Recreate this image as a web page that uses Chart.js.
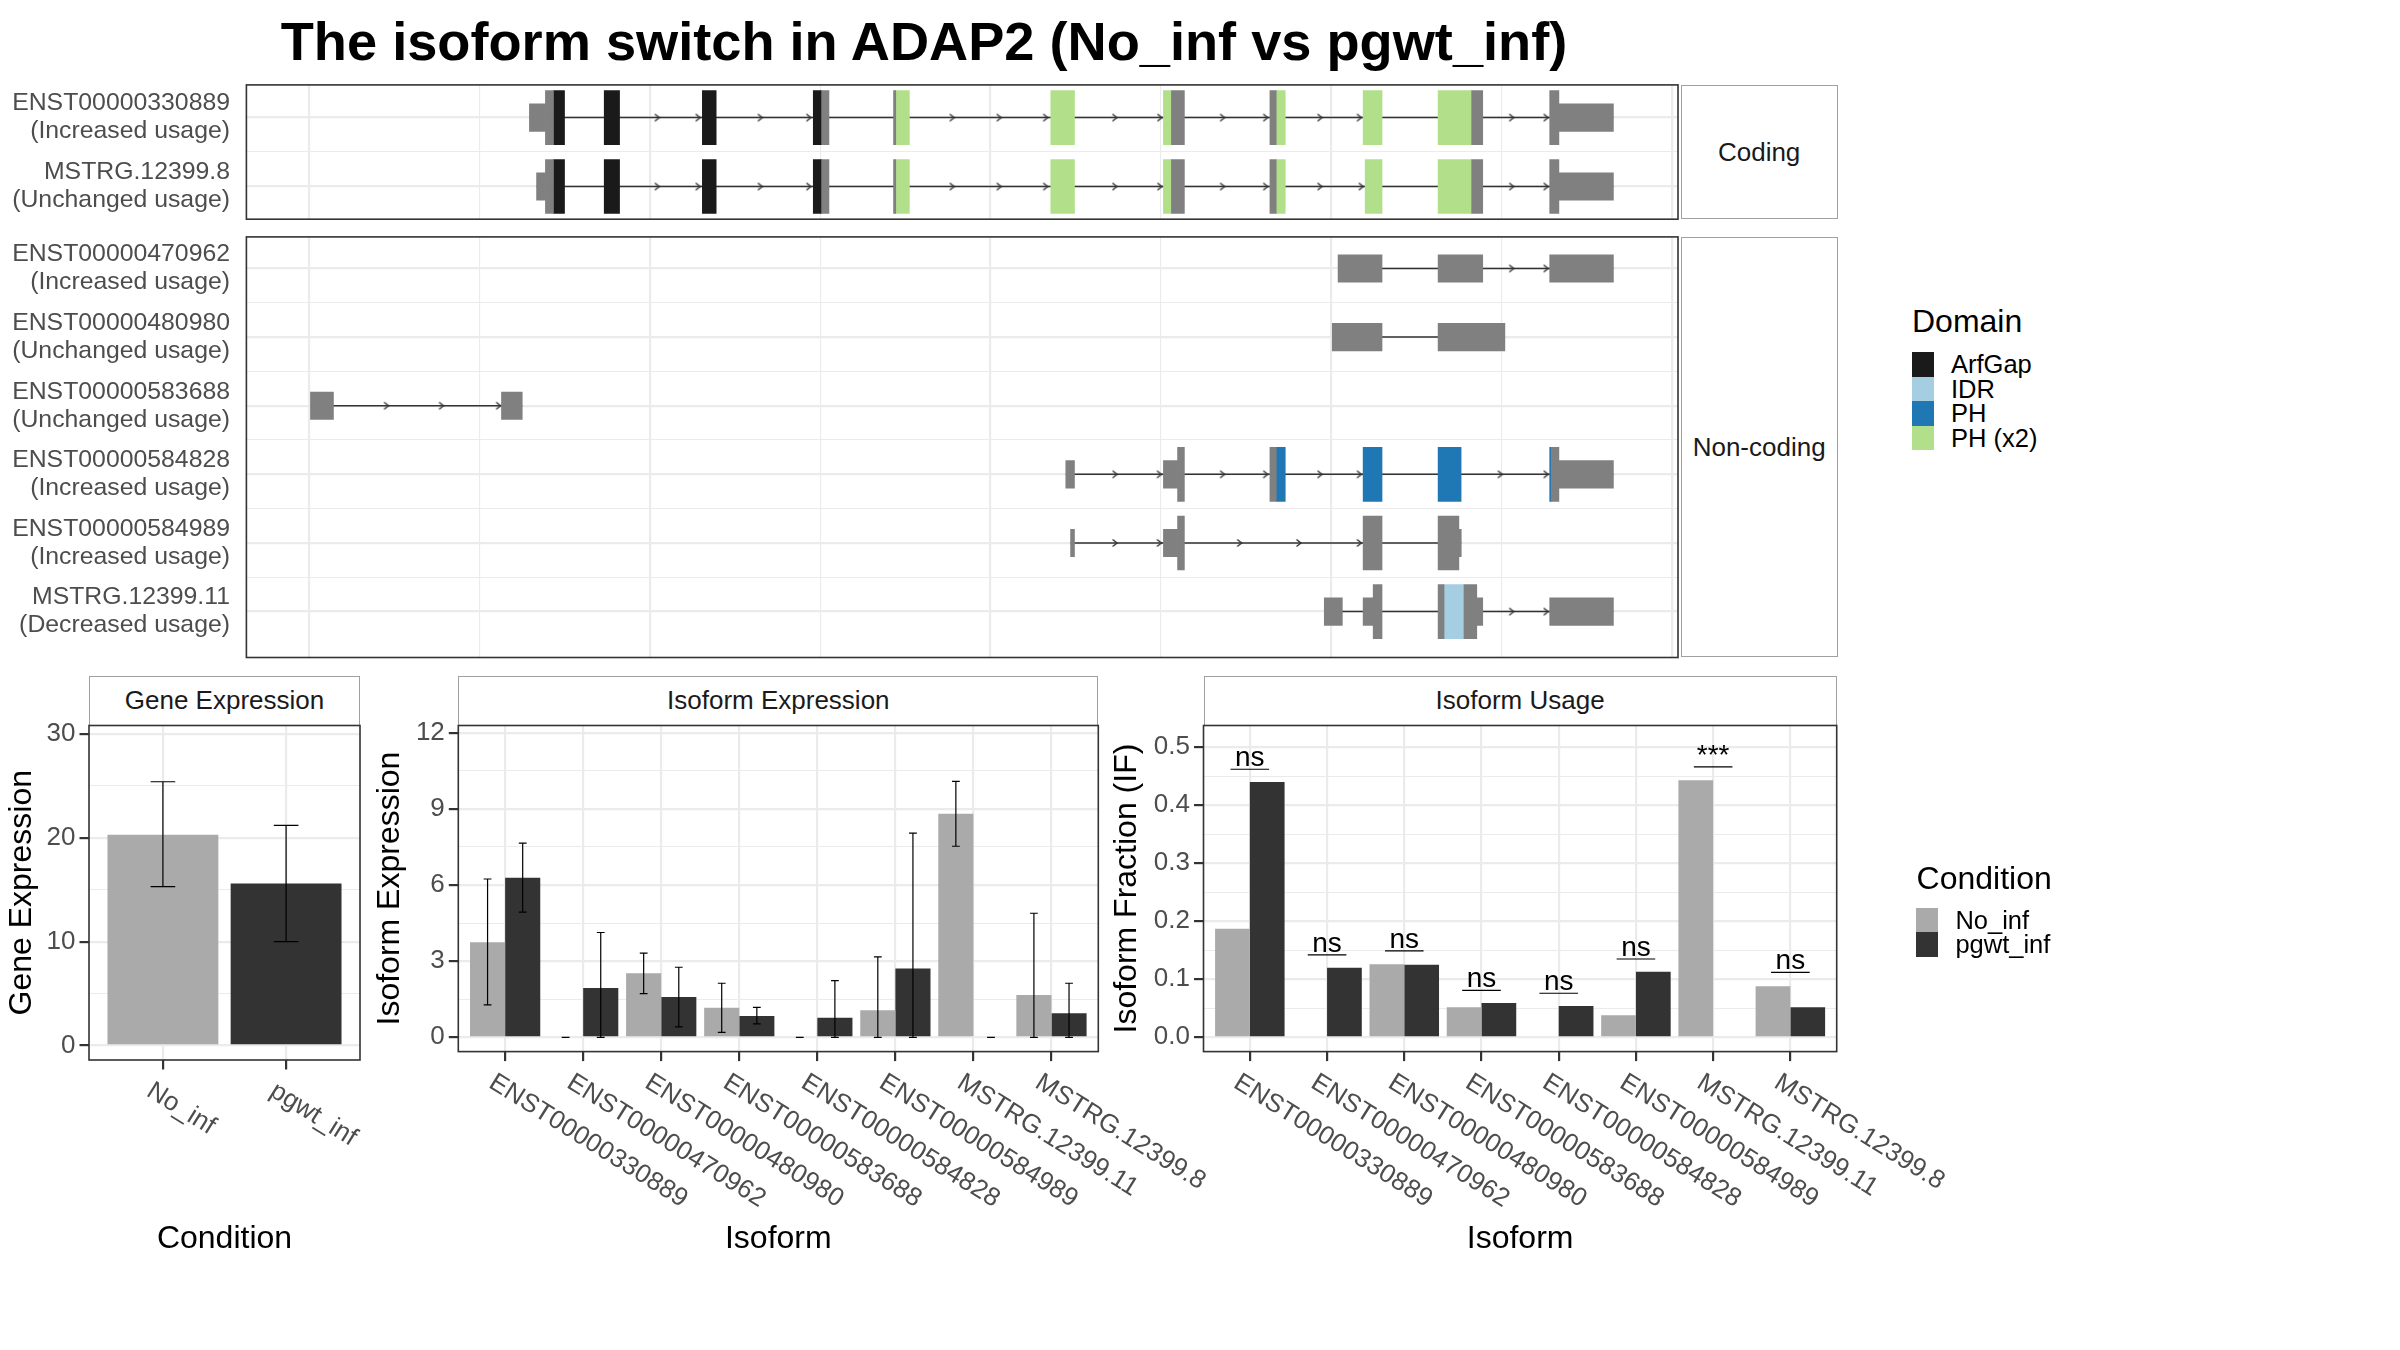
<!DOCTYPE html>
<html>
<head>
<meta charset="utf-8">
<script src="https://cdn.jsdelivr.net/npm/chart.js@4.4.1/dist/chart.umd.min.js"></script>
<style>
  html, body { margin: 0; padding: 0; background: #fff; }
  body { position: relative; width: 2400px; height: 1350px; overflow: hidden; font-family: 'Liberation Sans', Arial, Helvetica, sans-serif; }
  canvas { position: absolute; }
  .strip { position: absolute; box-sizing: border-box; border: 1px solid #a0a0a0; background: #fff;
           display: flex; align-items: center; justify-content: center; font-size: 26px; color: #1a1a1a; }
  .abs { position: absolute; white-space: nowrap; }
  .legend-title { font-size: 32px; line-height: 32px; color: #000; }
  .legend-row { display: flex; align-items: center; }
  .legend-row span { display: block; }
  .legend-row .lab { font-size: 25.5px; color: #000; }
</style>
</head>
<body>

<div class="abs" style="left:0;top:14px;width:1848px;text-align:center;font-weight:bold;font-size:54.2px;line-height:55px;color:#000;">The isoform switch in ADAP2 (No_inf vs pgwt_inf)</div>

<div class="strip" style="left:1680.5px;top:84.9px;width:157.3px;height:134.3px;">Coding</div>
<div class="strip" style="left:1680.5px;top:236.9px;width:157.3px;height:420.6px;">Non-coding</div>
<div class="strip" style="left:89px;top:675.6px;width:271px;height:50px;">Gene Expression</div>
<div class="strip" style="left:458.3px;top:675.6px;width:640px;height:50px;">Isoform Expression</div>
<div class="strip" style="left:1203.5px;top:675.6px;width:633.2px;height:50px;">Isoform Usage</div>

<canvas id="coding" width="1683" height="235" style="left:0;top:35px;"></canvas>
<canvas id="noncoding" width="1683" height="521" style="left:0;top:187px;"></canvas>
<canvas id="geneExpr" width="420" height="575" style="left:0;top:705px;"></canvas>
<canvas id="isoExpr" width="900" height="575" style="left:360px;top:705px;"></canvas>
<canvas id="isoUsage" width="900" height="575" style="left:1100px;top:705px;"></canvas>

<div class="abs legend-title" style="left:1912px;top:304.8px;">Domain</div>
<div class="abs" id="domainKeys" style="left:1911.5px;top:352px;"></div>
<div class="abs legend-title" style="left:1916.6px;top:861.7px;">Condition</div>
<div class="abs" id="conditionKeys" style="left:1915.5px;top:908px;"></div>

<script>
// ---- transcript structures (x in plot units, one grid step = 1) ----
const codingIds = ['ENST00000330889', 'MSTRG.12399.8'];
const codingUsage = ['Increased usage', 'Unchanged usage'];
const noncodingIds = ['ENST00000470962', 'ENST00000480980', 'ENST00000583688',
                      'ENST00000584828', 'ENST00000584989', 'MSTRG.12399.11'];
const noncodingUsage = ['Increased usage', 'Unchanged usage', 'Unchanged usage',
                        'Increased usage', 'Increased usage', 'Decreased usage'];
const genomeGrid = [0, 1, 2, 3, 4, 5, 6, 7, 8];

// [row, start, end]
const codingUtr = [[1, 1.294, 1.388], [1, 7.336, 7.656], [2, 1.336, 1.388], [2, 7.336, 7.656]];
const codingPlain = [
  [1, 1.388, 1.435], [1, 3.009, 3.052], [1, 3.431, 3.444], [1, 5.062, 5.138], [1, 5.640, 5.677], [1, 6.824, 6.889], [1, 7.282, 7.336],
  [2, 1.388, 1.435], [2, 3.009, 3.052], [2, 3.431, 3.444], [2, 5.062, 5.138], [2, 5.640, 5.677], [2, 6.824, 6.889], [2, 7.282, 7.336]
];
const codingArfGap = [
  [1, 1.435, 1.500], [1, 1.733, 1.823], [1, 2.309, 2.390], [1, 2.960, 3.009],
  [2, 1.435, 1.500], [2, 1.733, 1.823], [2, 2.309, 2.390], [2, 2.960, 3.009]
];
const codingPh2 = [
  [1, 3.444, 3.524], [1, 4.354, 4.493], [1, 5.015, 5.062], [1, 5.677, 5.730], [1, 6.187, 6.298], [1, 6.627, 6.824],
  [2, 3.444, 3.524], [2, 4.354, 4.493], [2, 5.015, 5.062], [2, 5.677, 5.730], [2, 6.199, 6.298], [2, 6.627, 6.824]
];
const codingIntrons = [[1, 1.294, 7.656], [2, 1.336, 7.656]];
const codingArrows = [
  [1, 2.056], [1, 2.296], [1, 2.661], [1, 2.946], [1, 3.787], [1, 4.063], [1, 4.336], [1, 4.742],
  [1, 5.006], [1, 5.374], [1, 5.627], [1, 5.946], [1, 6.177], [1, 7.071], [1, 7.273],
  [2, 2.056], [2, 2.296], [2, 2.661], [2, 2.946], [2, 3.787], [2, 4.063], [2, 4.336], [2, 4.742],
  [2, 5.006], [2, 5.374], [2, 5.627], [2, 5.946], [2, 6.188], [2, 7.071], [2, 7.273]
];

const ncUtr = [
  [1, 6.040, 6.298], [1, 6.627, 6.889], [1, 7.282, 7.656],
  [2, 6.006, 6.298], [2, 6.627, 7.019],
  [3, 0.009, 0.144], [3, 1.130, 1.252],
  [4, 4.442, 4.493], [4, 5.015, 5.098], [4, 7.336, 7.656],
  [5, 4.470, 4.493], [5, 5.015, 5.098], [5, 6.749, 6.763],
  [6, 5.959, 6.065], [6, 6.187, 6.246], [6, 6.854, 6.889], [6, 7.282, 7.656]
];
const ncPlain = [
  [4, 5.098, 5.138], [4, 5.640, 5.677], [4, 7.291, 7.336],
  [5, 5.098, 5.138], [5, 6.187, 6.298], [5, 6.627, 6.749],
  [6, 6.246, 6.298], [6, 6.627, 6.662], [6, 6.779, 6.854]
];
const ncPh = [[4, 5.677, 5.730], [4, 6.187, 6.298], [4, 6.627, 6.762], [4, 7.282, 7.291]];
const ncIdr = [[6, 6.662, 6.779]];
const ncIntrons = [[1, 6.040, 7.656], [2, 6.006, 7.019], [3, 0.009, 1.252], [4, 4.442, 7.656], [5, 4.470, 6.763], [6, 5.959, 7.656]];
const ncArrows = [
  [1, 7.071], [1, 7.273],
  [3, 0.467], [3, 0.790], [3, 1.125],
  [4, 4.743], [4, 5.003], [4, 5.374], [4, 5.627], [4, 5.946], [4, 6.177], [4, 7.004], [4, 7.273],
  [5, 4.743], [5, 5.003], [5, 5.474], [5, 5.822], [5, 6.177],
  [6, 7.071], [6, 7.273]
];

const domainNames = ['ArfGap', 'IDR', 'PH', 'PH (x2)'];
const domainColors = ['#1a1a1a', '#a6cee3', '#1f78b4', '#b2df8a'];
const exonGray = '#808080';

// ---- expression / usage ----
const conditions = ['No_inf', 'pgwt_inf'];
const conditionColors = ['#aaaaaa', '#333333'];
const geneExpr = [20.3, 15.6];
const geneLow = [15.3, 10.0];
const geneHigh = [25.4, 21.2];

const isoforms = ['ENST00000330889', 'ENST00000470962', 'ENST00000480980', 'ENST00000583688',
                  'ENST00000584828', 'ENST00000584989', 'MSTRG.12399.11', 'MSTRG.12399.8'];
const isoExprNoInf = [3.75, 0, 2.52, 1.16, 0, 1.07, 8.81, 1.67];
const isoLowNoInf  = [1.28, 0, 1.72, 0.19, 0, 0, 7.53, 0];
const isoHighNoInf = [6.24, 0, 3.32, 2.13, 0, 3.17, 10.09, 4.89];
const isoExprPgwt  = [6.29, 1.94, 1.59, 0.84, 0.77, 2.71, 0, 0.95];
const isoLowPgwt   = [4.93, 0, 0.41, 0.53, 0, 0, 0, 0];
const isoHighPgwt  = [7.65, 4.13, 2.76, 1.18, 2.23, 8.05, 0, 2.13];

const usageNoInf = [0.187, 0, 0.126, 0.052, 0, 0.038, 0.443, 0.088];
const usagePgwt  = [0.440, 0.120, 0.125, 0.059, 0.054, 0.113, 0, 0.052];
const sigLevel = [0.462, 0.142, 0.149, 0.081, 0.076, 0.135, 0.466, 0.112];
const sigLabel = ['ns', 'ns', 'ns', 'ns', 'ns', 'ns', '***', 'ns'];

const geneTicks = [0, 5, 10, 15, 20, 25, 30];
const geneMajor = [0, 10, 20, 30];
const isoTicks = [0, 1.5, 3, 4.5, 6, 7.5, 9, 10.5, 12];
const isoMajor = [0, 3, 6, 9, 12];
const usageTicks = [0, 0.05, 0.1, 0.15, 0.2, 0.25, 0.3, 0.35, 0.4, 0.45, 0.5];
const usageMajor = [0, 0.1, 0.2, 0.3, 0.4, 0.5];

const FONT = "'Liberation Sans', Arial, Helvetica, sans-serif";
Chart.defaults.font.family = FONT;
const GRID = '#ebebeb';

// small open ">" used along introns, tip at the image centre
const chevron = (() => {
  const c = document.createElement('canvas');
  c.width = 14; c.height = 10;
  const g = c.getContext('2d');
  g.strokeStyle = '#333';
  g.lineWidth = 1.4;
  g.beginPath();
  g.moveTo(2.5, 1.5); g.lineTo(7, 5); g.lineTo(2.5, 8.5);
  g.stroke();
  return c;
})();

const panelBorder = {
  id: 'panelBorder',
  afterDatasetsDraw(chart) {
    const { ctx, chartArea: a } = chart;
    ctx.save();
    ctx.strokeStyle = '#333';
    ctx.lineWidth = 1.6;
    ctx.strokeRect(a.left, a.top, a.right - a.left, a.bottom - a.top);
    ctx.restore();
  }
};

const errorBars = {
  id: 'errorBars',
  afterDatasetsDraw(chart, args, o) {
    const { ctx } = chart;
    const xs = chart.scales.x, ys = chart.scales.y;
    const cap = xs.getPixelForValue(1 + o.cap) - xs.getPixelForValue(1);
    ctx.save();
    ctx.strokeStyle = '#000';
    ctx.lineWidth = 1.2;
    o.low.forEach((lows, d) => {
      const bars = chart.getDatasetMeta(d).data;
      lows.forEach((lo, i) => {
        const x = bars[i].x;
        const y1 = ys.getPixelForValue(lo), y2 = ys.getPixelForValue(o.high[d][i]);
        ctx.beginPath();
        ctx.moveTo(x, y1); ctx.lineTo(x, y2);
        ctx.moveTo(x - cap, y1); ctx.lineTo(x + cap, y1);
        ctx.moveTo(x - cap, y2); ctx.lineTo(x + cap, y2);
        ctx.stroke();
      });
    });
    ctx.restore();
  }
};

const sigMarks = {
  id: 'sigMarks',
  afterDatasetsDraw(chart, args, o) {
    const { ctx } = chart;
    const xs = chart.scales.x, ys = chart.scales.y;
    ctx.save();
    ctx.strokeStyle = '#000';
    ctx.fillStyle = '#000';
    ctx.lineWidth = 1.2;
    ctx.font = '28px ' + FONT;
    ctx.textAlign = 'center';
    ctx.textBaseline = 'alphabetic';
    o.level.forEach((lv, i) => {
      const y = ys.getPixelForValue(lv);
      ctx.beginPath();
      ctx.moveTo(xs.getPixelForValue(i + 0.75), y);
      ctx.lineTo(xs.getPixelForValue(i + 1.25), y);
      ctx.stroke();
      ctx.fillText(o.text[i], xs.getPixelForValue(i + 1), y - 3);
    });
    ctx.restore();
  }
};

const slantedLabels = {
  id: 'slantedLabels',
  afterDraw(chart, args, o) {
    const { ctx, chartArea } = chart;
    const xs = chart.scales.x;
    ctx.save();
    ctx.font = '26px ' + FONT;
    ctx.fillStyle = '#4d4d4d';
    ctx.textAlign = 'left';
    ctx.textBaseline = 'alphabetic';
    o.labels.forEach((t, i) => {
      ctx.save();
      ctx.translate(xs.getPixelForValue(i + 1), chartArea.bottom);
      ctx.rotate(32 * Math.PI / 180);
      ctx.fillText(t, 3.6, 39);
      ctx.restore();
    });
    ctx.restore();
  }
};

function geneModel(id, ids, usage, layers, introns, arrows, yMin, yMax, pad) {
  const rowTicks = ids.flatMap((_, i) => i ? [i + 0.5, i + 1] : [1]);
  const datasets = layers.map(([pieces, color, tall]) => ({
    type: 'bar',
    data: pieces.map(p => ({ y: p[0], x: [p[1], p[2]] })),
    backgroundColor: color,
    barThickness: tall ? 54 : 27.5,
    grouped: false,
    borderWidth: 0,
    order: 0
  }));
  datasets.push({
    type: 'line',
    data: introns.flatMap(p => [{ x: p[1], y: p[0] }, { x: p[2], y: p[0] }, { x: null, y: null }]),
    borderColor: '#333',
    borderWidth: 1.5,
    pointRadius: 0,
    order: 10
  });
  datasets.push({
    type: 'line',
    data: arrows.map(a => ({ x: a[1], y: a[0] })),
    showLine: false,
    pointStyle: chevron,
    pointRadius: 4,
    order: 5
  });
  return new Chart(document.getElementById(id), {
    type: 'bar',
    data: { datasets },
    plugins: [panelBorder],
    options: {
      responsive: false,
      animation: false,
      events: [],
      indexAxis: 'y',
      layout: { padding: pad },
      plugins: { legend: { display: false }, tooltip: { enabled: false } },
      scales: {
        x: {
          type: 'linear', min: -0.367, max: 8.035, offset: false,
          afterBuildTicks: s => { s.ticks = genomeGrid.map(v => ({ value: v })); },
          afterFit: s => { s.height = 0; },
          ticks: { display: false },
          grid: { color: GRID, lineWidth: c => (c.tick.value % 2 === 0 ? 2.2 : 1.1), drawTicks: false, offset: false },
          border: { display: false }
        },
        y: {
          type: 'linear', reverse: true, min: yMin, max: yMax, offset: false,
          afterBuildTicks: s => { s.ticks = rowTicks.map(v => ({ value: v })); },
          afterFit: s => { s.width = 246.4; },
          ticks: {
            autoSkip: false,
            padding: 16.4,
            color: '#4d4d4d',
            font: { size: 24.8, lineHeight: 1.13 },
            callback: v => (Number.isInteger(v) ? [ids[v - 1], '(' + usage[v - 1] + ')'] : '')
          },
          grid: { color: GRID, lineWidth: c => (Number.isInteger(c.tick.value) ? 2.2 : 1.1), drawTicks: false, offset: false },
          border: { display: false }
        }
      }
    }
  });
}

geneModel('coding', codingIds, codingUsage,
  [[codingUtr, exonGray, false], [codingPlain, exonGray, true], [codingArfGap, domainColors[0], true], [codingPh2, domainColors[3], true]],
  codingIntrons, codingArrows, 0.5254, 2.4746, { top: 49.9, right: 2.5, bottom: 50.8, left: 0 });

geneModel('noncoding', noncodingIds, noncodingUsage,
  [[ncUtr, exonGray, false], [ncPlain, exonGray, true], [ncPh, domainColors[2], true], [ncIdr, domainColors[1], true]],
  ncIntrons, ncArrows, 0.5395, 6.669, { top: 49.9, right: 2.5, bottom: 50.5, left: 0 });

function barPanel(cfg) {
  const major = cfg.major;
  return new Chart(document.getElementById(cfg.id), {
    type: 'bar',
    data: { datasets: cfg.datasets },
    plugins: cfg.plugins,
    options: {
      responsive: false,
      animation: false,
      events: [],
      layout: { padding: cfg.pad },
      plugins: {
        legend: { display: false },
        tooltip: { enabled: false },
        slantedLabels: { labels: cfg.labels },
        errorBars: cfg.errors,
        sigMarks: cfg.sig
      },
      scales: {
        x: {
          type: 'linear', min: 0.4, max: cfg.labels.length + 0.6, offset: false,
          afterBuildTicks: s => { s.ticks = cfg.labels.map((_, i) => ({ value: i + 1 })); },
          afterFit: s => { s.height = cfg.xHeight; },
          ticks: { display: false },
          grid: { color: GRID, lineWidth: 2.2, tickColor: '#333', tickLength: 9.5, tickWidth: 2.2, offset: false },
          border: { display: false },
          title: { display: true, text: cfg.xTitle, color: '#000', font: { size: 32 }, padding: { top: 0, bottom: 21.8 } }
        },
        y: {
          type: 'linear', min: cfg.yMin, max: cfg.yMax,
          afterBuildTicks: s => { s.ticks = cfg.ticks.map(v => ({ value: v })); },
          afterFit: s => { s.width = cfg.yWidth; },
          ticks: {
            autoSkip: false,
            padding: 4,
            color: '#4d4d4d',
            font: { size: 26 },
            callback: v => (major.includes(v) ? cfg.fmt(v) : '')
          },
          grid: {
            color: GRID,
            lineWidth: c => (major.includes(c.tick.value) ? 2.2 : 1.1),
            tickColor: c => (major.includes(c.tick.value) ? '#333' : 'rgba(0,0,0,0)'),
            tickLength: 9.5,
            tickWidth: 2.2
          },
          border: { display: false },
          title: { display: true, text: cfg.yTitle, color: '#000', font: { size: 32 }, padding: { top: cfg.yTitlePad, bottom: 0 } }
        }
      }
    }
  });
}

const asPoints = vals => vals.map((v, i) => ({ x: i + 1, y: v }));

barPanel({
  id: 'geneExpr',
  labels: conditions,
  datasets: [{ data: asPoints(geneExpr), backgroundColor: conditionColors, categoryPercentage: 1, barPercentage: 0.9, borderWidth: 0 }],
  plugins: [errorBars, panelBorder, slantedLabels],
  errors: { low: [geneLow], high: [geneHigh], cap: 0.1 },
  yMin: -1.4, yMax: 30.82, ticks: geneTicks, major: geneMajor, fmt: v => String(v),
  yWidth: 89, xHeight: 220, yTitle: 'Gene Expression', yTitlePad: 2.5, xTitle: 'Condition',
  pad: { top: 20.5, right: 60, bottom: 0, left: 0 }
});

barPanel({
  id: 'isoExpr',
  labels: isoforms,
  datasets: [
    { data: asPoints(isoExprNoInf), backgroundColor: conditionColors[0], categoryPercentage: 0.9, barPercentage: 1, borderWidth: 0 },
    { data: asPoints(isoExprPgwt), backgroundColor: conditionColors[1], categoryPercentage: 0.9, barPercentage: 1, borderWidth: 0 }
  ],
  plugins: [errorBars, panelBorder, slantedLabels],
  errors: { low: [isoLowNoInf, isoLowPgwt], high: [isoHighNoInf, isoHighPgwt], cap: 0.05 },
  yMin: -0.564, yMax: 12.29, ticks: isoTicks, major: isoMajor, fmt: v => String(v),
  yWidth: 98.3, xHeight: 228.4, yTitle: 'Isoform Expression', yTitlePad: 11.1, xTitle: 'Isoform',
  pad: { top: 20.5, right: 161.7, bottom: 0, left: 0 }
});

barPanel({
  id: 'isoUsage',
  labels: isoforms,
  datasets: [
    { data: asPoints(usageNoInf), backgroundColor: conditionColors[0], categoryPercentage: 0.9, barPercentage: 1, borderWidth: 0 },
    { data: asPoints(usagePgwt), backgroundColor: conditionColors[1], categoryPercentage: 0.9, barPercentage: 1, borderWidth: 0 }
  ],
  plugins: [sigMarks, panelBorder, slantedLabels],
  sig: { level: sigLevel, text: sigLabel },
  yMin: -0.0246, yMax: 0.5374, ticks: usageTicks, major: usageMajor, fmt: v => v.toFixed(1),
  yWidth: 103.5, xHeight: 228.4, yTitle: 'Isoform Fraction (IF)', yTitlePad: 7.8, xTitle: 'Isoform',
  pad: { top: 20.5, right: 163.3, bottom: 0, left: 0 }
});

// legends
function keyRows(el, names, colors, rowH, gap) {
  const box = document.getElementById(el);
  names.forEach((n, i) => {
    const row = document.createElement('div');
    row.className = 'legend-row';
    row.style.height = rowH + 'px';
    row.innerHTML = '<span style="width:22px;height:' + rowH + 'px;background:' + colors[i] + '"></span>' +
                    '<span class="lab" style="margin-left:' + gap + 'px;line-height:' + rowH + 'px">' + n + '</span>';
    box.appendChild(row);
  });
}
keyRows('domainKeys', domainNames, domainColors, 24.6, 17.5);
keyRows('conditionKeys', conditions, conditionColors, 24.3, 17.9);
</script>
</body>
</html>
